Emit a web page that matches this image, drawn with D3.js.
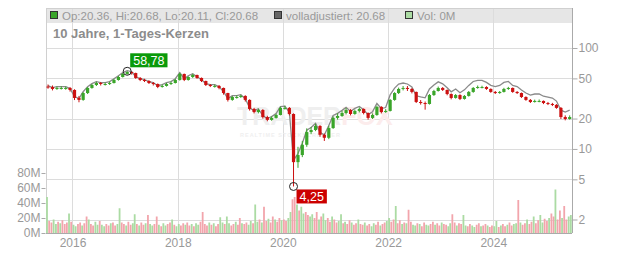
<!DOCTYPE html>
<html>
<head>
<meta charset="utf-8">
<script src="https://cdn.jsdelivr.net/npm/d3@7"></script>
<style>
  body { margin: 0; background: #fff; }
  svg text { font-family: "Liberation Sans", Arial, sans-serif; }
</style>
</head>
<body>
<div id="chart"></div>
<script>
// monthly candles, Jul 2015 .. Jun 2025
var firstOpen = 41.5;
var closes = [
    41.1, 39.3, 40.2, 40.2, 40.2, 38.4, 32.0, 30.6, 35.8, 40.2, 43.0, 45.0,
    44.0, 44.0, 45.0, 48.2, 51.6, 55.3, 57.9, 56.5, 50.5, 48.2, 47.1, 45.0,
    44.0, 41.1, 42.1, 44.0, 45.0, 48.2, 55.3, 48.2, 51.6, 54.0, 50.5, 47.1,
    43.0, 42.1, 42.1, 40.2, 35.8, 30.6, 32.7, 32.7, 33.5, 30.6, 24.9, 23.2,
    24.3, 20.7, 19.4, 20.3, 21.7, 25.5, 25.5, 22.2, 7.4, 8.7, 11.0, 14.7,
    15.4, 16.9, 13.8, 12.9, 16.1, 20.3, 21.2, 22.7, 24.3, 22.2, 23.8, 24.9,
    22.7, 20.3, 21.7, 26.1, 23.2, 23.8, 30.6, 35.8, 39.3, 40.2, 39.3, 36.7,
    29.2, 28.5, 27.9, 34.2, 37.5, 40.2, 38.4, 35.0, 32.0, 34.2, 31.3, 33.5,
    36.7, 40.2, 41.1, 41.1, 39.3, 36.7, 35.8, 36.7, 39.3, 40.2, 36.7, 35.8,
    32.7, 30.6, 29.2, 29.9, 29.9, 28.5, 27.9, 27.3, 25.5, 20.7, 19.8, 20.7
];
var highs = [
    43.5, 42.5, 41.5, 41.8, 41.5, 41.0, 39.0, 33.5, 36.5, 41.0, 44.0, 46.5,
    46.0, 45.5, 46.5, 49.5, 53.0, 56.5, 58.78, 58.5, 57.0, 51.5, 49.5, 48.0,
    46.0, 44.5, 43.5, 45.0, 46.5, 49.5, 57.0, 55.8, 52.5, 55.5, 54.5, 51.0,
    47.5, 44.0, 43.5, 43.0, 40.5, 36.0, 33.5, 34.0, 34.5, 34.0, 31.0, 25.5,
    25.0, 24.8, 21.3, 21.0, 22.3, 26.2, 26.8, 26.0, 22.5, 10.5, 12.0, 16.0,
    16.5, 17.8, 17.2, 14.2, 17.0, 21.0, 22.5, 23.8, 25.5, 24.8, 24.5, 25.8,
    25.2, 23.0, 22.5, 26.8, 26.5, 24.8, 31.2, 36.5, 40.5, 42.0, 42.0, 40.0,
    37.0, 30.5, 29.5, 35.0, 38.5, 41.5, 41.0, 38.8, 35.5, 35.0, 34.8, 34.2,
    37.5, 41.0, 42.5, 42.3, 41.8, 39.8, 37.5, 37.5, 40.3, 41.2, 40.6, 37.4,
    36.2, 33.2, 31.2, 30.8, 30.9, 30.2, 29.2, 28.6, 27.8, 26.0, 21.5, 21.5
];
var lows = [
    39.5, 38.0, 38.5, 38.8, 38.6, 37.0, 30.5, 29.0, 30.0, 35.0, 39.5, 42.0,
    42.5, 42.5, 43.0, 44.5, 47.5, 51.0, 54.5, 54.5, 49.5, 47.0, 46.0, 44.0,
    42.5, 40.0, 40.5, 41.5, 43.0, 44.5, 47.5, 47.0, 47.5, 50.5, 49.5, 46.0,
    42.0, 41.0, 40.5, 39.0, 34.5, 29.5, 30.0, 31.5, 32.0, 29.5, 24.0, 22.5,
    22.5, 20.0, 18.8, 19.0, 20.0, 21.5, 24.5, 21.5, 4.25, 6.5, 8.3, 10.5,
    14.0, 15.0, 13.2, 12.0, 12.5, 15.8, 19.5, 20.8, 22.0, 21.5, 21.8, 23.0,
    22.0, 19.5, 19.8, 21.3, 22.5, 22.8, 23.5, 30.0, 35.0, 38.0, 37.5, 35.5,
    28.5, 27.5, 24.5, 27.5, 33.5, 37.0, 37.5, 34.0, 31.0, 31.5, 30.5, 30.8,
    33.0, 36.0, 39.5, 39.8, 38.5, 36.0, 35.0, 35.2, 36.2, 38.5, 36.0, 35.0,
    32.0, 30.0, 28.5, 28.8, 29.0, 27.8, 27.2, 26.6, 25.0, 19.8, 19.2, 19.5
];
// "volladjustiert" line
var adjusted = [
    42.3, 40.5, 41.4, 41.4, 41.4, 39.6, 33.0, 31.5, 36.9, 41.4, 44.3, 46.4,
    45.3, 45.3, 46.4, 49.6, 53.1, 57.0, 59.6, 58.2, 52.0, 49.6, 48.5, 46.4,
    45.3, 42.3, 43.4, 45.3, 46.4, 49.6, 57.0, 49.6, 53.1, 55.6, 52.0, 48.5,
    44.3, 43.4, 43.4, 41.4, 36.9, 31.5, 33.7, 33.7, 34.5, 31.5, 25.6, 23.9,
    25.0, 21.3, 20.0, 20.9, 22.4, 26.3, 26.5, 23.1, 7.7, 9.0, 11.4, 15.3,
    16.3, 17.9, 14.6, 13.7, 17.1, 21.5, 22.5, 24.1, 25.8, 23.5, 25.2, 26.4,
    24.5, 21.9, 23.4, 28.2, 25.1, 25.7, 34.3, 40.1, 44.0, 45.0, 44.0, 41.1,
    33.6, 32.8, 32.1, 39.3, 43.1, 46.2, 44.2, 40.3, 36.8, 39.3, 36.0, 38.5,
    42.6, 46.6, 47.7, 47.7, 45.6, 42.6, 41.5, 42.6, 45.6, 46.6, 42.6, 41.5,
    38.3, 35.8, 34.2, 35.0, 35.0, 33.3, 32.6, 31.9, 29.8, 24.2, 23.2, 24.2
];
// volume in millions, two bars per month
var volumes = [
    48, 16, 14, 18, 12, 15, 13, 17, 12, 14, 26, 15, 11, 9, 12, 14, 10, 13, 22, 18, 12, 10, 15, 11,
    16, 11, 9, 12, 10, 13, 14, 10, 12, 33, 14, 12, 10, 15, 11, 13, 25, 12, 10, 14, 11, 13, 24, 12,
    10, 12, 22, 11, 9, 13, 10, 12, 14, 18, 11, 9, 12, 10, 13, 11, 14, 10, 12, 9, 13, 11, 15, 28,
    12, 10, 14, 11, 13, 9, 12, 21, 14, 12, 22, 13, 10, 12, 15, 11, 20, 13, 12, 14, 11, 16, 13, 38,
    15, 18, 14, 35, 16, 19, 14, 22, 18, 15, 20, 17, 18, 16, 20, 28, 45, 48, 38, 30, 35, 26, 28, 24,
    22, 25, 20, 28, 18, 22, 26, 17, 20, 15, 22, 18, 14, 16, 25, 13, 15, 12, 17, 14, 11, 13, 18, 12,
    11, 14, 10, 12, 9, 13, 11, 15, 10, 12, 14, 16, 20, 15, 18, 36, 13, 17, 12, 14, 13, 31, 15, 11,
    10, 13, 12, 9, 14, 11, 10, 12, 15, 11, 13, 10, 14, 12, 11, 9, 13, 25, 14, 10, 13, 12, 24, 10,
    9, 12, 10, 8, 11, 13, 9, 10, 12, 10, 8, 10, 9, 16, 8, 10, 12, 9, 11, 14, 10, 12, 13, 44,
    14, 11, 13, 18, 12, 15, 22, 13, 17, 24, 14, 19, 16, 20, 26, 22, 58, 18, 30, 20, 36, 18, 22, 24
];
var volDir =
    "udduududdduduudduddudduu" + "duuddudduuddudduududdudu" +
    "udduduudduduuddudduduudd" + "ddududduuduudduddudduudu" +
    "ududdudduddudduudduduudd" + "uudduduuddudduududduddud" +
    "dudduuddudduudduddududdu" + "ududduudduddudduuddudduu" +
    "dduudduddudduududdudduud" + "udduddudduuddudduddudduu";

var priceTicks = [2, 5, 10, 20, 50, 100];
var volTicks = [0, 20, 40, 60, 80];
var yearTicks = [2016, 2018, 2020, 2022, 2024];
var maxLabel = "58,78", minLabel = "4,25";

var width = 632, height = 253;
var plotLeft = 46, plotRight = 572, plotTop = 8, plotBottom = 233;

var start = new Date(2015, 6, 1), end = new Date(2025, 6, 1);
var months = d3.timeMonth.range(start, end);
var halfMonths = [];
months.forEach(function(m) { halfMonths.push(m, d3.timeDay.offset(m, 15)); });

var candles = months.map(function(m, i) {
    return {
        date: d3.timeDay.offset(m, 14),
        open: i == 0 ? firstOpen : closes[i - 1],
        close: closes[i],
        high: highs[i],
        low: lows[i],
        adj: adjusted[i]
    };
});

var x = d3.scaleTime().domain([start, end]).range([plotLeft, plotRight]);
var y = d3.scaleLog().domain([2, 100]).range([219.5, 48]);
var yv = d3.scaleLinear().domain([0, 80]).range([plotBottom, 173]);

var svg = d3.select("#chart").append("svg")
    .attr("width", width)
    .attr("height", height);

// header strip
svg.append("rect")
    .attr("x", plotLeft).attr("y", plotTop)
    .attr("width", plotRight - plotLeft).attr("height", 15)
    .attr("fill", "#e6e6e6");

// grid
svg.append("g").selectAll("line").data(priceTicks).join("line")
    .attr("x1", plotLeft).attr("x2", plotRight)
    .attr("y1", function(d) { return Math.round(y(d)) + 0.5; })
    .attr("y2", function(d) { return Math.round(y(d)) + 0.5; })
    .attr("stroke", "#dcdcdc");

svg.append("g").selectAll("line").data(yearTicks).join("line")
    .attr("x1", function(d) { return Math.round(x(new Date(d, 0, 1))) + 0.5; })
    .attr("x2", function(d) { return Math.round(x(new Date(d, 0, 1))) + 0.5; })
    .attr("y1", plotTop).attr("y2", plotBottom)
    .attr("stroke", "#dcdcdc");

// frame
svg.append("line").attr("x1", plotLeft + 0.5).attr("x2", plotLeft + 0.5).attr("y1", plotTop).attr("y2", plotBottom).attr("stroke", "#d0d0d0");
svg.append("line").attr("x1", plotLeft).attr("x2", plotRight).attr("y1", plotTop + 0.5).attr("y2", plotTop + 0.5).attr("stroke", "#d0d0d0");

// watermark
var wm = svg.append("g");
wm.append("text")
    .attr("x", 237).attr("y", 125)
    .attr("font-size", 25).attr("font-weight", "bold")
    .attr("fill", "#efefef")
    .text("TRADER")
  .append("tspan").attr("fill", "#fcecec").text("FOX");
wm.append("text")
    .attr("x", 240).attr("y", 137)
    .attr("font-size", 5.5).attr("font-weight", "bold").attr("letter-spacing", 1)
    .attr("fill", "#efefef")
    .text("REALTIME STOCKSCREENER");

// volume
svg.append("g").selectAll("rect").data(halfMonths).join("rect")
    .attr("x", function(d) { return x(d) + 0.1; })
    .attr("width", 1.8)
    .attr("y", function(d, i) { return yv(volumes[i]); })
    .attr("height", function(d, i) { return plotBottom - yv(volumes[i]); })
    .attr("fill", function(d, i) { return volDir[i] == "u" ? "#abdba3" : "#f2a5ac"; });

// adjusted line
svg.append("path")
    .datum(candles)
    .attr("fill", "none")
    .attr("stroke", "#8a8a8a")
    .attr("stroke-width", 1.3)
    .attr("d", d3.line()
        .x(function(d) { return x(d.date); })
        .y(function(d) { return y(d.adj); }));

// candles
var cg = svg.append("g").selectAll("g").data(candles).join("g")
    .attr("stroke", function(d) { return d.close >= d.open ? "#3aa52a" : "#cc1111"; })
    .attr("fill", function(d) { return d.close >= d.open ? "#3aa52a" : "#cc1111"; });

cg.append("line")
    .attr("x1", function(d) { return x(d.date); })
    .attr("x2", function(d) { return x(d.date); })
    .attr("y1", function(d) { return y(d.high); })
    .attr("y2", function(d) { return y(d.low); });

cg.append("rect")
    .attr("stroke", "none")
    .attr("x", function(d) { return x(d.date) - 1.6; })
    .attr("width", 3.2)
    .attr("y", function(d) { return y(Math.max(d.open, d.close)); })
    .attr("height", function(d) { return Math.max(1, Math.abs(y(d.open) - y(d.close))); });

// axes
svg.append("line").attr("x1", plotRight + 0.5).attr("x2", plotRight + 0.5).attr("y1", plotTop).attr("y2", plotBottom).attr("stroke", "#aaa");
svg.append("line").attr("x1", plotLeft).attr("x2", plotRight).attr("y1", plotBottom + 0.5).attr("y2", plotBottom + 0.5).attr("stroke", "#aaa");

function styleAxis(g) {
    g.select(".domain").remove();
    g.selectAll(".tick line").attr("stroke", "#aaa");
    g.selectAll(".tick text")
        .attr("fill", "#999")
        .attr("font-size", 12)
        .attr("font-family", "Liberation Sans, Arial, sans-serif");
}

svg.append("g")
    .attr("transform", "translate(" + (plotRight + 0.5) + ",0)")
    .call(d3.axisRight(y).tickValues(priceTicks).tickFormat(d3.format("d")).tickSize(5).tickPadding(1))
    .call(styleAxis);

svg.append("g")
    .attr("transform", "translate(" + (plotLeft - 0.5) + ",0)")
    .call(d3.axisLeft(yv).tickValues(volTicks).tickFormat(function(d) { return d + "M"; }).tickSize(4).tickPadding(1))
    .call(styleAxis);

svg.append("g")
    .attr("transform", "translate(0," + (plotBottom + 0.5) + ")")
    .call(d3.axisBottom(x)
        .tickValues(yearTicks.map(function(d) { return new Date(d, 0, 1); }))
        .tickFormat(d3.timeFormat("%Y")).tickSize(0).tickPadding(5))
    .call(styleAxis);

// max / min markers
function marker(c, value, label, color, dx, dy) {
    var cx = x(c.date), cy = y(value);
    var g = svg.append("g");
    g.append("circle")
        .attr("cx", cx).attr("cy", cy).attr("r", 4)
        .attr("fill", "none").attr("stroke", "#222").attr("stroke-width", 1);
    var box = g.append("rect")
        .attr("x", cx + dx).attr("y", cy + dy)
        .attr("height", 14)
        .attr("fill", color);
    var t = g.append("text")
        .attr("x", cx + dx + 3).attr("y", cy + dy + 11.5)
        .attr("font-size", 12.5).attr("fill", "#fff")
        .text(label);
    box.attr("width", t.node().getComputedTextLength() + 6);
}
var iMax = d3.maxIndex(highs), iMin = d3.minIndex(lows);
marker(candles[iMax], highs[iMax], maxLabel, "#0a9a0a", 3, -18);
marker(candles[iMin], lows[iMin], minLabel, "#cc0000", 3, 3);

// legend header
var lg = svg.append("g").attr("font-size", 11.5).attr("fill", "#999");
function legendItem(lx, fill, label) {
    lg.append("rect")
        .attr("x", lx + 0.5).attr("y", 11.5).attr("width", 7).attr("height", 7)
        .attr("fill", fill).attr("stroke", "#333");
    lg.append("text").attr("x", lx + 12).attr("y", 19.5).text(label);
}
legendItem(50, "#3aa52a", "Op:20.36, Hi:20.68, Lo:20.11, Cl:20.68");
legendItem(274, "#666", "volladjustiert: 20.68");
legendItem(405, "#abdba3", "Vol: 0M");

svg.append("text")
    .attr("x", 53).attr("y", 38)
    .attr("font-size", 13).attr("font-weight", "bold")
    .attr("fill", "#8c8c8c")
    .text("10 Jahre, 1-Tages-Kerzen");
</script>
</body>
</html>
